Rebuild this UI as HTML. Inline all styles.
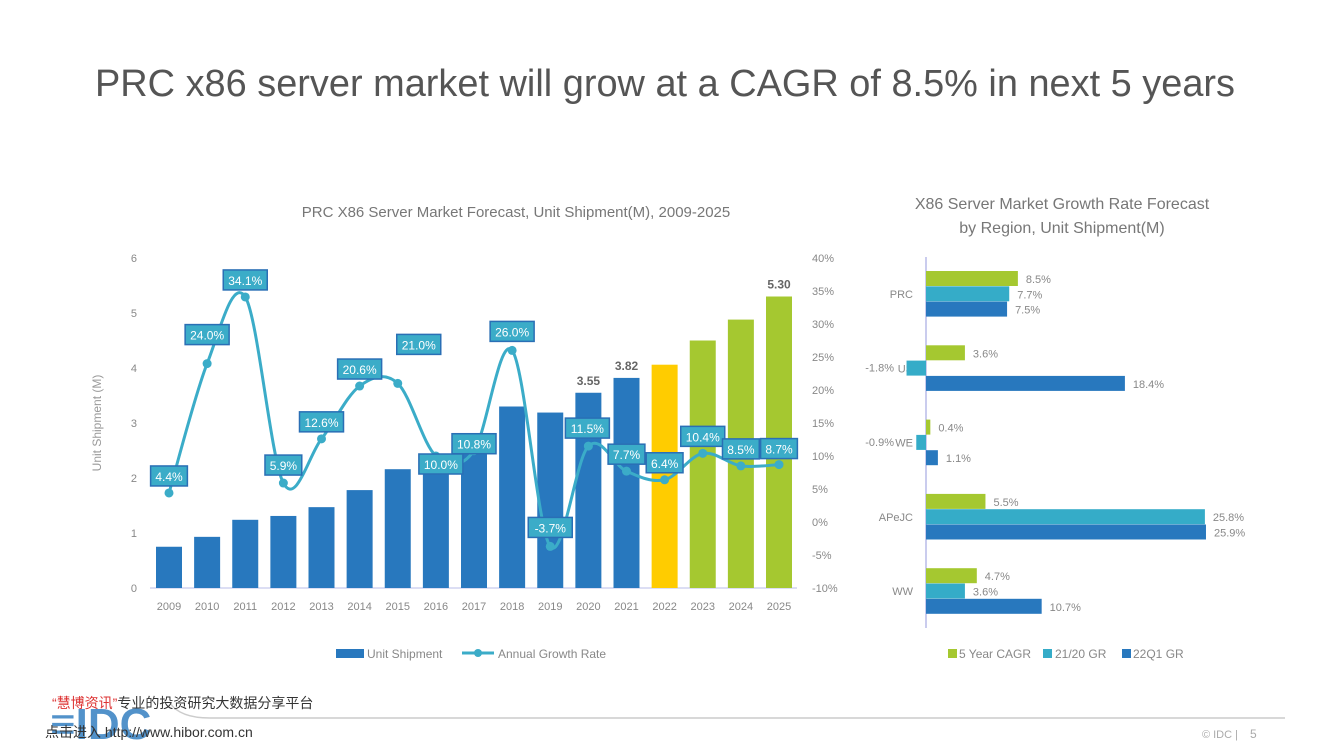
<!DOCTYPE html>
<html><head><meta charset="utf-8">
<style>
body{margin:0;width:1333px;height:750px;background:#fff;overflow:hidden;font-family:"Liberation Sans","Noto Sans CJK SC",sans-serif;}
svg text{font-family:"Liberation Sans","Noto Sans CJK SC",sans-serif;}
</style></head><body>
<svg width="1333" height="750" id="svg">
<text x="665" y="96" text-anchor="middle" font-size="38" fill="#555" textLength="1140" lengthAdjust="spacingAndGlyphs">PRC x86 server market will grow at a CAGR of 8.5% in next 5 years</text>
<text x="516" y="217" text-anchor="middle" font-size="15" fill="#777">PRC X86 Server Market Forecast, Unit Shipment(M), 2009-2025</text>
<text x="1062" y="209" text-anchor="middle" font-size="16" fill="#777">X86 Server Market Growth Rate Forecast</text>
<text x="1062" y="233" text-anchor="middle" font-size="16" fill="#777">by Region, Unit Shipment(M)</text>
<text transform="translate(101,423) rotate(-90)" text-anchor="middle" font-size="12" fill="#999">Unit Shipment (M)</text>
<g id="left"></g>
<g id="right"></g>
<g>
<rect x="336" y="649" width="28" height="9" fill="#2878be"/>
<text x="367" y="658" font-size="12" fill="#888">Unit Shipment</text>
<line x1="462" y1="653" x2="494" y2="653" stroke="#3bacc8" stroke-width="3"/>
<circle cx="478" cy="653" r="4" fill="#3bacc8"/>
<text x="498" y="658" font-size="12" fill="#888">Annual Growth Rate</text>
</g>
<g>
<rect x="948" y="649" width="9" height="9" fill="#a5c830"/><text x="959" y="658" font-size="12" fill="#888">5 Year CAGR</text>
<rect x="1043" y="649" width="9" height="9" fill="#35acc8"/><text x="1055" y="658" font-size="12" fill="#888">21/20 GR</text>
<rect x="1122" y="649" width="9" height="9" fill="#2878be"/><text x="1133" y="658" font-size="12" fill="#888">22Q1 GR</text>
</g>
<g>
<path d="M170 703 Q180 718 210 718 L1285 718" stroke="#ccc" stroke-width="1.5" fill="none"/>
<text x="50" y="739" font-size="44" fill="#2878be" opacity="0.8" font-weight="bold">≡IDC</text>
<text x="52" y="708" font-size="14" fill="#333"><tspan fill="#d33">“慧博资讯”</tspan>专业的投资研究大数据分享平台</text>
<text x="45" y="737" font-size="14" fill="#333">点击进入 http://www.hibor.com.cn</text>
<text x="1238" y="738" text-anchor="end" font-size="11" fill="#aaa">© IDC |</text>
<text x="1250" y="738" font-size="12" fill="#aaa">5</text>
</g>
</svg>
<script>
const years=["2009","2010","2011","2012","2013","2014","2015","2016","2017","2018","2019","2020","2021","2022","2023","2024","2025"];
const shipments=[0.75,0.93,1.24,1.31,1.47,1.78,2.16,2.3,2.62,3.3,3.19,3.55,3.82,4.06,4.5,4.88,5.3];
const growth=[4.4,24.0,34.1,5.9,12.6,20.6,21.0,10.0,10.8,26.0,-3.7,11.5,7.7,6.4,10.4,8.5,8.7];
const leftTicks=["0","1","2","3","4","5","6"];
const rightTicks=["-10%","-5%","0%","5%","10%","15%","20%","25%","30%","35%","40%"];
const valueLabels={"2020":"3.55","2021":"3.82","2025":"5.30"};
const regions=["PRC","US","WE","APeJC","WW"];
const cagr5=[8.5,3.6,0.4,5.5,4.7];
const gr2120=[7.7,-1.8,-0.9,25.8,3.6];
const gr22q1=[7.5,18.4,1.1,25.9,10.7];

const NS="http://www.w3.org/2000/svg";
function mk(p,t,a,txt){const e=document.createElementNS(NS,t);for(const k in a)e.setAttribute(k,a[k]);if(txt!==undefined)e.textContent=txt;p.appendChild(e);return e;}
const L=document.getElementById('left'),R=document.getElementById('right');
const xL=i=>169+i*38.125, yL=v=>588-v*55, yR=v=>522-v*6.6;
leftTicks.forEach((t,i)=>{const e=mk(L,'text',{x:137,y:yL(+t)+4,'text-anchor':'end','font-size':11,fill:'#888'},t);

});
rightTicks.forEach(t=>{const e=mk(L,'text',{x:812,y:yR(parseFloat(t))+4,'font-size':11,fill:'#888'},t);

});
mk(L,'line',{x1:150,y1:588,x2:797,y2:588,stroke:'#b8bce8','stroke-width':1});
years.forEach((y,i)=>{
 const col=i<13?'#2878be':(i==13?'#ffcc00':'#a5c830');
 const b=mk(L,'rect',{x:xL(i)-13,y:yL(shipments[i]),width:26,height:588-yL(shipments[i]),fill:col});
 
 
 const t=mk(L,'text',{x:xL(i),y:610,'text-anchor':'middle','font-size':11,fill:'#888'},y);
 
 
 if(valueLabels[y]){const v=mk(L,'text',{x:xL(i),y:yL(shipments[i])-8,'text-anchor':'middle','font-size':12,'font-weight':'bold',fill:'#666'},valueLabels[y]);
 
 }
});
const pts=growth.map((g,i)=>[xL(i),yR(g)]);
let d='M'+pts[0][0]+' '+pts[0][1];
for(let i=0;i<pts.length-1;i++){const p0=pts[Math.max(0,i-1)],p1=pts[i],p2=pts[i+1],p3=pts[Math.min(pts.length-1,i+2)];
 d+=` C${p1[0]+(p2[0]-p0[0])/6} ${p1[1]+(p2[1]-p0[1])/6} ${p2[0]-(p3[0]-p1[0])/6} ${p2[1]-(p3[1]-p1[1])/6} ${p2[0]} ${p2[1]}`;}
const ln=mk(L,'path',{d:d,fill:'none',stroke:'#3bacc8','stroke-width':3});


const off=[[0,-17],[0,-29],[0,-17],[0,-18],[0,-17],[0,-17],[21,-39],[5,8],[0,-7],[0,-19],[0,-19],[-1,-18],[0,-17],[0,-17],[0,-17],[0,-17],[0,-16]];
pts.forEach((p,i)=>{
 const c=mk(L,'circle',{cx:p[0],cy:p[1],r:4.5,fill:'#3bacc8'});
 
 
 const lx=p[0]+off[i][0],ly=p[1]+off[i][1];
 const txt=growth[i].toFixed(1)+'%';const w=txt.length*7.2+8;
 mk(L,'rect',{x:lx-w/2,y:ly-10,width:w,height:20,fill:'#3bacc8',stroke:'#2a6fb5','stroke-width':1.5});
 const t=mk(L,'text',{x:lx,y:ly+5,'text-anchor':'middle','font-size':12,fill:'#fff'},txt);
 
 
});
const x0=926,sc=10.81;
mk(R,'line',{x1:x0,y1:257,x2:x0,y2:628,stroke:'#b8bce8','stroke-width':1.5});
const series=[[cagr5,'#a5c830','cagr'],[gr2120,'#35acc8','gr2120'],[gr22q1,'#2878be','gr22q1']];
regions.forEach((r,i)=>{
 const cy=294+i*74.3;
 const lab=mk(R,'text',{x:913,y:cy+4,'text-anchor':'end','font-size':11,fill:'#888'},r);
 
 
 series.forEach((s,j)=>{
  const v=s[0][i],y=cy-23+j*15.3,w=Math.abs(v)*sc;
  const b=mk(R,'rect',{x:v<0?x0-w:x0,y:y,width:w,height:15,fill:s[1]});
  
  
  const t=v<0?mk(R,'text',{x:x0-32,y:y+11,'text-anchor':'end','font-size':11,fill:'#888'},v.toFixed(1)+'%')
            :mk(R,'text',{x:x0+w+8,y:y+12,'font-size':11,fill:'#888'},v.toFixed(1)+'%');
  
  
 });
});
</script>
</body></html>
